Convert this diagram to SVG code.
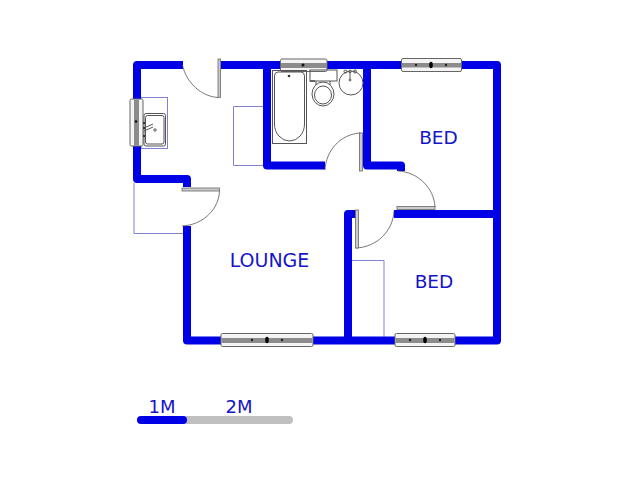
<svg xmlns="http://www.w3.org/2000/svg" width="640" height="480" viewBox="0 0 640 480">
<style>
.wall{fill:none;stroke:#0000e6;stroke-width:8;stroke-linejoin:round;stroke-linecap:butt}
.thin{fill:none;stroke:#8080d4;stroke-width:1}
.fix{fill:none;stroke:#555;stroke-width:1}
.arc{fill:none;stroke:#555;stroke-width:.8}
.leaf{fill:#ccc;stroke:#666;stroke-width:.8}
.frame{fill:#f4f4f4;stroke:#666;stroke-width:1}
.band{fill:#8c8c8c}
.txt{font-family:"DejaVu Sans",Verdana,sans-serif;fill:#1414c8;text-anchor:middle}
</style>
<defs>
<g id="dots"><ellipse cx="0" cy="0" rx="1.8" ry="3.2" fill="#000"/><circle cx="-15" cy="0" r="1.2" fill="#222"/><circle cx="15" cy="0" r="1.2" fill="#222"/></g>
</defs>
<rect width="640" height="480" fill="#fff"/>
<g id="thin-lines">
<rect class="thin" x="141" y="97.500" width="26.500" height="51"/>
<path class="thin" d="M267 106.500H233.500V165.500H267"/>
<path class="thin" d="M134 183V233.500H187"/>
<path class="thin" d="M352 260.500H384V337"/>
</g>
<g id="walls">
<path class="wall" d="M183 65H137V179H187V187"/>
<path class="wall" d="M221 65H497V340.500H187V226"/>
<path class="wall" d="M267 65V165.500H325"/>
<path class="wall" d="M367 65V165.500H401V171"/>
<path class="wall" d="M394 214H497"/>
<path class="wall" d="M356 214H348V340.500"/>
</g>
<g id="doors">
<path class="arc" d="M182.500 65C186 82 201 97 219 97.500"/>
<rect class="leaf" x="218" y="59" width="2.500" height="38.500"/>
<path class="arc" d="M219.500 190C219.500 209 203 225 182 226"/>
<rect class="leaf" x="182" y="188" width="37.500" height="3"/>
<path class="arc" d="M360.500 133C341 134 326 150 325 170"/>
<rect class="leaf" x="359.500" y="133" width="3" height="38"/>
<path class="arc" d="M398 171C418 172 434 188 435 207"/>
<rect class="leaf" x="397" y="206.500" width="38" height="3"/>
<path class="arc" d="M394 211C393 231 377 247 356 248"/>
<rect class="leaf" x="355.500" y="210" width="3" height="38"/>
</g>
<g id="windows">
<rect class="frame" x="280.500" y="59" width="46.500" height="12.500" rx="1.500"/>
<rect class="band" x="281" y="63" width="46" height="5"/>
<ellipse cx="303" cy="65" rx="1.500" ry="1.500" fill="#111"/>
<rect class="frame" x="401.500" y="58.500" width="60" height="13" rx="1.500"/>
<rect class="band" x="402" y="63" width="59" height="4.500"/>
<use href="#dots" x="431" y="65"/>
<rect class="frame" x="221" y="333.500" width="92" height="13" rx="1.500"/>
<rect class="band" x="221.500" y="338" width="91" height="5"/>
<use href="#dots" x="267" y="340"/>
<rect class="frame" x="395" y="333.500" width="60" height="13" rx="1.500"/>
<rect class="band" x="395.500" y="338" width="59" height="5"/>
<use href="#dots" x="425" y="340"/>
<rect class="frame" x="130" y="99" width="13" height="47" rx="1.500"/>
<rect class="band" x="134" y="99.500" width="5" height="46"/>
<circle cx="136" cy="121.500" r="1.300" fill="#111"/>
</g>
<g id="fixtures">
<rect class="fix" x="144" y="113.500" width="21.500" height="32.500" rx="2"/>
<rect class="fix" x="145.500" y="115.500" width="18.500" height="28.500" rx="2"/>
<path class="fix" d="M144 128L153 124M144 131L153 127"/>
<circle cx="155" cy="130" r="1.200" class="fix"/>
<rect x="143" y="122" width="2" height="2" fill="#333"/><rect x="143" y="127" width="2" height="2" fill="#333"/><rect x="143" y="135" width="2" height="2" fill="#333"/>
<rect class="fix" x="272.500" y="70.500" width="34" height="73"/>
<path class="fix" d="M274.500 76Q274.500 72 278 72H301Q304.500 72 304.500 76V124A15 17 0 0 1 274.500 124Z"/>
<circle cx="289" cy="76" r="1.300" fill="#333"/>
<rect class="fix" x="310" y="70" width="27" height="11"/>
<rect x="310" y="80" width="5" height="2" fill="#666"/>
<path class="fix" d="M316 81V85M330 81V85"/>
<ellipse class="fix" cx="323" cy="94" rx="11" ry="12"/>
<ellipse class="fix" cx="323" cy="95" rx="8.500" ry="9"/>
<circle class="fix" cx="351" cy="83" r="12"/>
<circle class="fix" cx="345.500" cy="71.500" r="1.500"/><circle class="fix" cx="355" cy="71.500" r="1.500"/><circle class="fix" cx="350" cy="71.500" r="1.300"/>
<path class="fix" d="M350 72V79"/><circle class="fix" cx="350" cy="80" r="1"/>
</g>
<g id="labels">
<text class="txt" x="438.500" y="144" font-size="18.500">BED</text>
<text class="txt" x="434" y="288" font-size="18.500">BED</text>
<text class="txt" x="269.500" y="267" font-size="19">LOUNGE</text>
<text class="txt" x="162" y="413" font-size="18">1M</text>
<text class="txt" x="239" y="413" font-size="18">2M</text>
</g>
<g id="scale">
<path d="M185 420H289" stroke="#c0c0c0" stroke-width="8" stroke-linecap="round"/>
<path d="M141 420H183" stroke="#0000e6" stroke-width="8" stroke-linecap="round"/>
</g>
</svg>
